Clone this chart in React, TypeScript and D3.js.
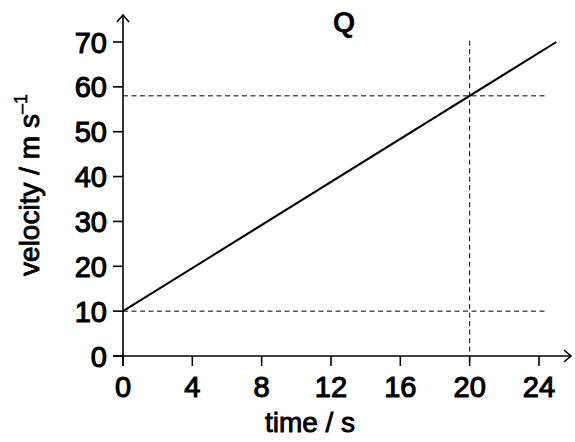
import React from "react";
import * as d3 from "d3";

const title = "Q";
const xTicks = [0, 4, 8, 12, 16, 20, 24];
const yTicks = [0, 10, 20, 30, 40, 50, 60, 70];
const lineTimes = [0, 25];
const lineVelocities = [10, 70];
const hGuides = [10, 58];
const vGuide = 20;
const xLabel = "time / s";
const yLabelMain = "velocity / m s";
const yLabelSup = "–1";

const W = 575;
const H = 442;
const FONT = "'Liberation Sans', Arial, sans-serif";

export default function App() {
  const x = d3.scaleLinear().domain([0, 24]).range([123, 539]);
  const y = d3.scaleLinear().domain([0, 70]).range([356, 42]);
  const pts = lineTimes.map((t, i) => [t, lineVelocities[i]] as [number, number]);
  const line = d3
    .line<[number, number]>()
    .x((d) => x(d[0]))
    .y((d) => y(d[1]));
  const x0 = x(0);
  const y0 = y(0);
  const dash = "5,3.5";
  return (
    <svg
      width={W}
      height={H}
      style={{ position: "absolute", left: 0, top: 0, background: "#fff" }}
      fontFamily={FONT}
    >
      <rect width={W} height={H} fill="#fff" />
      {/* dashed guides */}
      {hGuides.map((v) => (
        <line
          key={v}
          x1={x0}
          x2={x(24.35)}
          y1={y(v)}
          y2={y(v)}
          stroke="#000"
          strokeWidth={1}
          strokeDasharray={dash}
        />
      ))}
      <line
        x1={x(vGuide)}
        x2={x(vGuide)}
        y1={y(70.3)}
        y2={y0}
        stroke="#000"
        strokeWidth={1}
        strokeDasharray={dash}
      />
      {/* data line */}
      <path d={line(pts) || ""} fill="none" stroke="#000" strokeWidth={2} />
      {/* axes */}
      <line x1={x0} x2={x0} y1={y0 + 10} y2={15} stroke="#000" strokeWidth={1.6} />
      <path
        d={`M${x0 - 6},${22} L${x0},${15} L${x0 + 6},${22}`}
        fill="none"
        stroke="#000"
        strokeWidth={1.6}
      />
      <line x1={x0 - 10} x2={571} y1={y0} y2={y0} stroke="#000" strokeWidth={1.6} />
      <path
        d={`M${564},${y0 - 6} L${571},${y0} L${564},${y0 + 6}`}
        fill="none"
        stroke="#000"
        strokeWidth={1.6}
      />
      {/* y ticks */}
      {yTicks.map((v) => (
        <g key={v}>
          <line x1={x0 - 10} x2={x0} y1={y(v)} y2={y(v)} stroke="#000" strokeWidth={1.6} />
          <text
            x={107}
            y={y(v) + 10.5}
            textAnchor="end"
            fontSize={29}
            fill="#000"
            stroke="#000"
            strokeWidth={1.1}
          >
            {v}
          </text>
        </g>
      ))}
      {/* x ticks */}
      {xTicks.map((t) => (
        <g key={t}>
          <line x1={x(t)} x2={x(t)} y1={y0} y2={y0 + 10} stroke="#000" strokeWidth={1.6} />
          <text
            x={x(t)}
            y={397}
            textAnchor="middle"
            fontSize={29}
            fill="#000"
            stroke="#000"
            strokeWidth={1.1}
          >
            {t}
          </text>
        </g>
      ))}
      {/* axis labels */}
      <text
        x={310}
        y={432}
        textAnchor="middle"
        fontSize={28}
        fill="#000"
        stroke="#000"
        strokeWidth={0.9}
      >
        {xLabel}
      </text>
      <text
        transform={`translate(39,${185}) rotate(-90)`}
        textAnchor="middle"
        fontSize={28}
        fill="#000"
        stroke="#000"
        strokeWidth={0.9}
      >
        {yLabelMain}
        <tspan fontSize={18} dy={-12} strokeWidth={0.5}>
          {yLabelSup}
        </tspan>
      </text>
      <text
        x={344}
        y={32}
        textAnchor="middle"
        fontSize={29}
        fontWeight="bold"
        fill="#000"
      >
        {title}
      </text>
    </svg>
  );
}
